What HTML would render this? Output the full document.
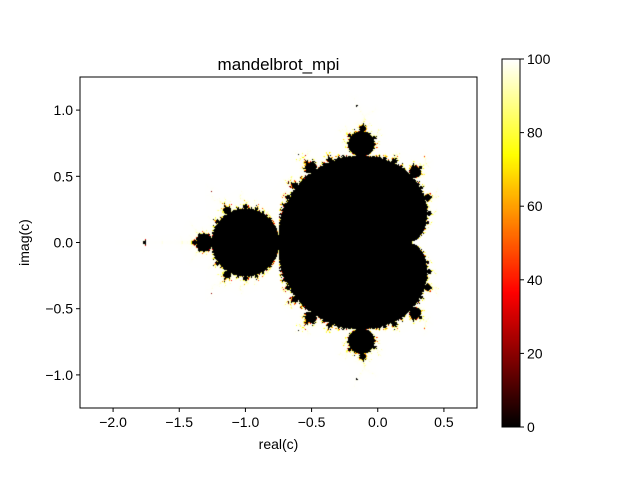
<!DOCTYPE html>
<html><head><meta charset="utf-8"><style>
body{margin:0;background:#fff;font-family:"Liberation Sans","DejaVu Sans",sans-serif;}
#wrap{position:relative;width:640px;height:480px;overflow:hidden;}
canvas{position:absolute;}
svg{position:absolute;left:0;top:0;}
</style></head><body>
<div id="wrap">
<canvas id="plot" width="397" height="331" style="left:80px;top:77px"></canvas>
<canvas id="cbar" width="18" height="368" style="left:502px;top:59px"></canvas>
<svg id="ov" width="640" height="480"></svg>
</div>
<script>
const xDomain=[-2.25,0.75];
const yDomain=[-1.25,1.25];
const gridSize=[400,330];
const maxIter=100;
const xTicks=[-2.0,-1.5,-1.0,-0.5,0.0,0.5];
const yTicks=[-1.0,-0.5,0.0,0.5,1.0];
const cbTicks=[0,20,40,60,80,100];
const title="mandelbrot_mpi", xLabel="real(c)", yLabel="imag(c)";

const P={l:80,t:77,w:397,h:331};
const sx=v=>P.l+(v-xDomain[0])/(xDomain[1]-xDomain[0])*P.w;
const sy=v=>P.t+P.h-(v-yDomain[0])/(yDomain[1]-yDomain[0])*P.h;
function hot(t){t=Math.max(0,Math.min(1,t));
 const c=x=>Math.round(255*Math.max(0,Math.min(1,x)));
 return [c(t/0.365),c((t-0.365)/0.375),c((t-0.74)/0.26)];}

const ctx=document.getElementById('plot').getContext('2d');
const [NX,NY]=gridSize;
const cw=P.w/NX,ch=P.h/NY;
for(let i=0;i<NX;i++)for(let j=0;j<NY;j++){
 const cr=xDomain[0]+(i+0.5)*(xDomain[1]-xDomain[0])/NX;
 const ci=yDomain[1]-(j+0.5)*(yDomain[1]-yDomain[0])/NY;
 let zr=0,zi=0,n=0;
 while(n<maxIter&&zr*zr+zi*zi<=4){const t=zr*zr-zi*zi+cr;zi=2*zr*zi+ci;zr=t;n++;}
 const v=n>=maxIter?0:maxIter-n*n*n/(maxIter*maxIter);
 const [r,g,b]=hot(v/maxIter);
 ctx.fillStyle=`rgb(${r},${g},${b})`;
 const x0=Math.round(i*cw),x1=Math.round((i+1)*cw),y0=Math.round(j*ch),y1=Math.round((j+1)*ch);
 if(x1>x0&&y1>y0)ctx.fillRect(x0,y0,x1-x0,y1-y0);
}
const cb=document.getElementById('cbar').getContext('2d');
for(let y=0;y<368;y++){const [r,g,b]=hot(1-y/367);cb.fillStyle=`rgb(${r},${g},${b})`;cb.fillRect(0,y,18,1);}

const ov=document.getElementById('ov');const NS='http://www.w3.org/2000/svg';
function el(tag,attrs,txt){const e=document.createElementNS(NS,tag);for(const k in attrs)e.setAttribute(k,attrs[k]);if(txt!==undefined)e.textContent=txt;ov.appendChild(e);return e;}
let e;
e=el('rect',{x:P.l,y:P.t,width:P.w,height:P.h,fill:'none',stroke:'#000','stroke-width':1});


const fmt=v=>(v<0?'\u2212':'')+Math.abs(v).toFixed(1);
xTicks.forEach(v=>{const x=sx(v);
 el('line',{x1:x,x2:x,y1:P.t+P.h,y2:P.t+P.h+4,stroke:'#000'});
 e=el('text',{x:x,y:P.t+P.h+19,'font-size':14,'text-anchor':'middle'},fmt(v));
 
 });
yTicks.forEach(v=>{const y=sy(v);
 el('line',{x1:P.l-4,x2:P.l,y1:y,y2:y,stroke:'#000'});
 e=el('text',{x:P.l-7,y:y+5,'font-size':14,'text-anchor':'end'},fmt(v));
 
 });
e=el('text',{x:P.l+P.w/2,y:P.t-7,'font-size':17,'text-anchor':'middle'},title);


e=el('text',{x:P.l+P.w/2,y:449,'font-size':14,'text-anchor':'middle'},xLabel);


e=el('text',{x:29,y:P.t+P.h/2,'font-size':14,'text-anchor':'middle',transform:`rotate(-90 29 ${P.t+P.h/2})`},yLabel);


e=el('rect',{x:502,y:59,width:18,height:368,fill:'none',stroke:'#000'});


cbTicks.forEach(v=>{const y=427-v/100*368;
 el('line',{x1:520,x2:524,y1:y,y2:y,stroke:'#000'});
 e=el('text',{x:527,y:y+5,'font-size':14},String(v));
 
 });
</script>
</body></html>
